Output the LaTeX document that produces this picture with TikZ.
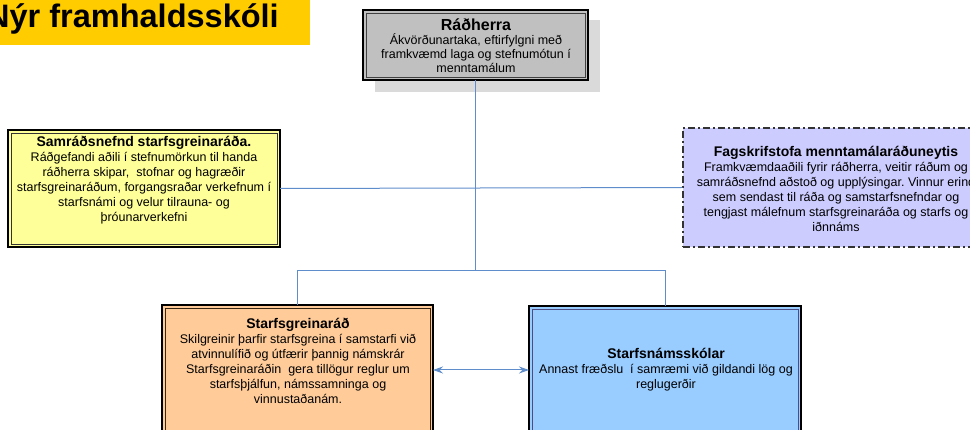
\documentclass[tikz,border=0pt]{standalone}
\usepackage{fontspec}
\setmainfont{Liberation Sans}
\usetikzlibrary{arrows.meta}
\frenchspacing
\definecolor{banner}{HTML}{FFCC00}
\definecolor{radfill}{HTML}{C0C0C0}
\definecolor{radshadow}{HTML}{DADADA}
\definecolor{samfill}{HTML}{FFFF99}
\definecolor{fagfill}{HTML}{CCCCFF}
\definecolor{sgrfill}{HTML}{FFCC99}
\definecolor{skolfill}{HTML}{99CCFF}
\definecolor{conn}{HTML}{5F8DCB}
\tikzset{
  boxshape/.style={draw=black, line width=1.3pt, inner sep=0pt, outer sep=0pt},
  innerline/.style={line width=0.9pt},
  bodytext/.style={align=center, inner sep=0pt, font=\fontsize{12.5}{15}\selectfont},
  connector/.style={draw=conn, line width=1pt},
}
\newcommand{\ttl}[1]{{\bfseries\fontsize{14}{16}\selectfont #1}}
\begin{document}
\begin{tikzpicture}[x=1pt,y=-1pt]
\useasboundingbox (0,0) rectangle (970,430);
\clip (0,0) rectangle (970,430);
% banner
\fill[banner] (0,0) rectangle (310,45);
\node[anchor=base west, inner sep=0pt, font=\bfseries\fontsize{32.5}{36}\selectfont] (title) at (-14,28) {Nýr framhaldsskóli};
% Radherra
\fill[radshadow] (375,20) rectangle (600,92);
\node[boxshape, fill=radfill, minimum width=225pt, minimum height=70pt] (rad) at (475.5,45) {};
\draw[innerline, draw=black!75] ([shift={(3pt,-3pt)}]rad.north west) rectangle ([shift={(-3pt,3pt)}]rad.south east);
\node[bodytext, font=\fontsize{12.5}{14}\selectfont] (radtext) at (476,45.5) {{\bfseries\fontsize{16}{18}\selectfont Ráðherra}\\Ákvörðunartaka, eftirfylgni með\\framkvæmd laga og stefnumótun í\\menntamálum};
% Samradsnefnd
\node[boxshape, fill=samfill, minimum width=272pt, minimum height=117pt] (sam) at (144,188.5) {};
\draw[innerline, draw=black!80] ([shift={(3pt,-3pt)}]sam.north west) rectangle ([shift={(-3pt,3pt)}]sam.south east);
\node[bodytext] (samtext) at (144,180.5) {\ttl{Samráðsnefnd starfsgreinaráða.}\\Ráðgefandi aðili í stefnumörkun til handa\\ráðherra skipar,\ \ stofnar og hagræðir\\starfsgreinaráðum, forgangsraðar verkefnum í\\starfsnámi og velur tilrauna- og\\þróunarverkefni};
% Fagskrifstofa
\node[draw=black!80, line width=1.3pt, dash pattern=on 7pt off 3pt on 2pt off 3pt, fill=fagfill, minimum width=314pt, minimum height=119pt, inner sep=0pt] (fag) at (840,187.5) {};
\node[bodytext] (fagtext) at (836,189) {\ttl{Fagskrifstofa menntamálaráðuneytis}\\Framkvæmdaaðili fyrir ráðherra, veitir ráðum og\\samráðsnefnd aðstoð og upplýsingar. Vinnur erind\\sem sendast til ráða og samstarfsnefndar og\\tengjast málefnum starfsgreinaráða og starfs og\\iðnnáms};
% Starfsgreinarad
\node[boxshape, fill=sgrfill, minimum width=271pt, minimum height=165pt] (sgr) at (297.5,387.5) {};
\draw[innerline, draw=black!70!brown] ([shift={(3pt,-3pt)}]sgr.north west) rectangle ([shift={(-3pt,3pt)}]sgr.south east);
\node[bodytext] (sgrtext) at (298,361) {\ttl{Starfsgreinaráð}\\Skilgreinir þarfir starfsgreina í samstarfi við\\atvinnulífið og útfærir þannig námskrár\\Starfsgreinaráðin\ \ gera tillögur reglur um\\starfsþjálfun, námssamninga og\\vinnustaðanám.};
% Starfsnamsskolar
\node[boxshape, fill=skolfill, minimum width=272pt, minimum height=164pt] (skol) at (665,388) {};
\draw[innerline, draw=blue!30!black!70] ([shift={(3pt,-3pt)}]skol.north west) rectangle ([shift={(-3pt,3pt)}]skol.south east);
\node[bodytext] (skoltext) at (666,369.5) {\ttl{Starfsnámsskólar}\\Annast fræðslu\ \ í samræmi við gildandi lög og\\reglugerðir};
% connectors
\coordinate (j) at (475.5,271);
\coordinate (ay) at (0,370);
\draw[connector] (sam.east) -- (fag.west);
\draw[connector] (rad.south) -- (j);
\draw[connector] (j) -| (sgr.north);
\draw[connector] (j) -| (skol.north);
\draw[connector, {Stealth[length=10pt,width=7pt]}-{Stealth[length=10pt,width=7pt]}, fill=conn] (sgr.east |- ay) -- (skol.west |- ay);
\end{tikzpicture}
\end{document}
